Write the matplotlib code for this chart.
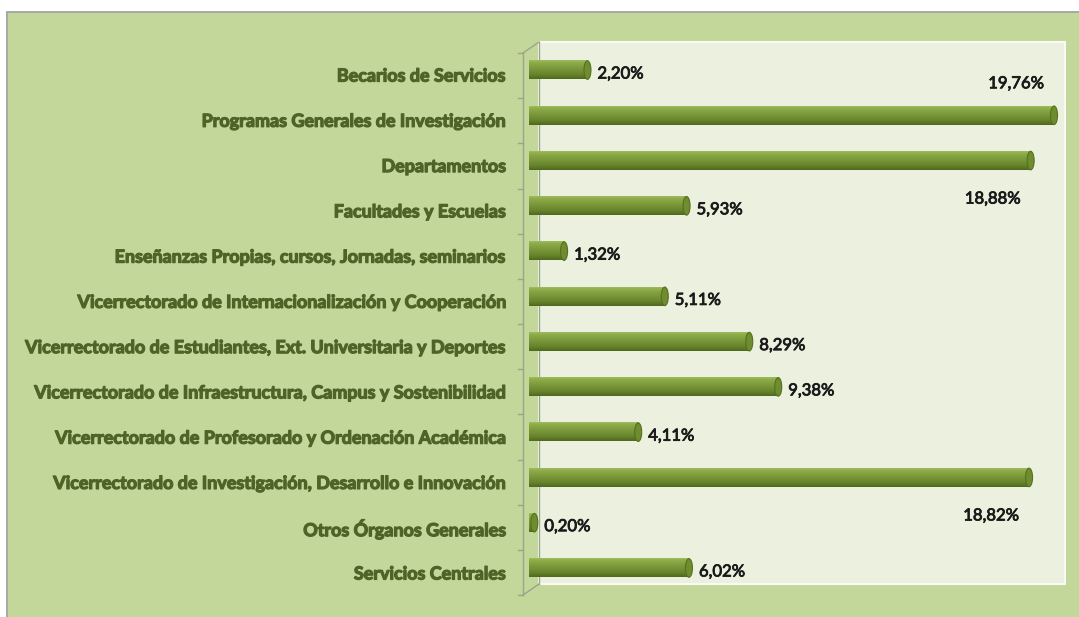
import matplotlib
matplotlib.use('Agg')
import matplotlib.pyplot as plt
from matplotlib.patches import Rectangle, Ellipse
from matplotlib.lines import Line2D
from matplotlib.colors import LinearSegmentedColormap
import matplotlib.transforms as mtransforms
import matplotlib.patheffects as pe
import numpy as np

categories = [
    'Becarios de Servicios',
    'Programas Generales de Investigación',
    'Departamentos',
    'Facultades y Escuelas',
    'Enseñanzas Propias, cursos, Jornadas, seminarios',
    'Vicerrectorado de Internacionalización y Cooperación',
    'Vicerrectorado de Estudiantes, Ext. Universitaria y Deportes',
    'Vicerrectorado de Infraestructura, Campus y Sostenibilidad',
    'Vicerrectorado de Profesorado y Ordenación Académica',
    'Vicerrectorado de Investigación, Desarrollo e Innovación',
    'Otros Órganos Generales',
    'Servicios Centrales',
]
values = [2.20, 19.76, 18.88, 5.93, 1.32, 5.11, 8.29, 9.38, 4.11, 18.82, 0.20, 6.02]
value_labels = ['2,20%', '19,76%', '18,88%', '5,93%', '1,32%', '5,11%',
                '8,29%', '9,38%', '4,11%', '18,82%', '0,20%', '6,02%']

W, H = 1079, 617
fig = plt.figure(figsize=(W / 100, H / 100), dpi=100, facecolor='white')

FONT = ['Lato', 'DejaVu Sans']


def fx(px):
    return px / W


def fy(py):
    return 1 - py / H


# outer chart area
fig.patches.append(Rectangle((fx(7), fy(660)), fx(1120) - fx(7), fy(12) - fy(660),
                             transform=fig.transFigure, facecolor='#c4d79b',
                             edgecolor='#a3a3a3', lw=1.3, zorder=0))
# back wall
fig.patches.append(Rectangle((fx(539), fy(584)), fx(1065) - fx(539), fy(42) - fy(584),
                             transform=fig.transFigure, facecolor='#ebf1de',
                             edgecolor='#f8fbf3', lw=1.5, zorder=1))

# 3D side-wall lines
axis_col = '#9aa58a'
for (x0, y0, x1, y1) in [(523, 53, 523, 595), (523, 53, 539, 42), (523, 595, 539, 584),
                         (539, 42, 539, 584)]:
    fig.lines.append(Line2D([fx(x0), fx(x1)], [fy(y0), fy(y1)], transform=fig.transFigure,
                            color=axis_col, lw=1.0, zorder=2))
n = len(categories)
for k in range(n + 1):
    yy = 53 + k * (542 / n)
    fig.lines.append(Line2D([fx(518), fx(523)], [fy(yy), fy(yy)], transform=fig.transFigure,
                            color=axis_col, lw=1.0, zorder=2))

ax = fig.add_axes([fx(529), fy(590.6), fx(1060.4) - fx(529), fy(47.4) - fy(590.6)])
ax.set_zorder(5)
ax.patch.set_visible(False)
for s in ax.spines.values():
    s.set_visible(False)
ax.set_xticks([])
ax.set_yticks([])

bar_h = 0.41
cmap = LinearSegmentedColormap.from_list('cyl', [
    (0.0, '#9fbb5e'), (0.12, '#8eac48'), (0.45, '#7a983a'),
    (0.78, '#66822b'), (1.0, '#4f681d')])
grad = np.linspace(0, 1, 64).reshape(-1, 1)

px_per_unit = (1060.4 - 529) / 20.0
cap_w = 7 / px_per_unit

bars = ax.barh(range(n), values, height=bar_h, color='#76933c', zorder=3)
for i, (b, v) in enumerate(zip(bars, values)):
    ax.imshow(grad, cmap=cmap, aspect='auto', origin='upper',
              extent=(0, v, i + bar_h / 2, i - bar_h / 2), zorder=4, interpolation='bilinear')
    ax.add_patch(Ellipse((v, i), cap_w, bar_h, facecolor='#6f8d2f', edgecolor='#55701f',
                         lw=0.8, zorder=5))

ax.set_xlim(0, 20)
ax.set_ylim(n - 0.5, -0.5)

fig.canvas.draw()
renderer = fig.canvas.get_renderer()

# category labels
lab_col = '#4f6228'
lab_trans = ax.transData + mtransforms.ScaledTranslation(-23 / 100, -6 / 100, fig.dpi_scale_trans)
probe = fig.text(0, 0, categories[6], fontsize=12, family=FONT, weight='bold')
w = probe.get_window_extent(renderer).width
probe.remove()
cat_fs = 12 * 478 / w
for i, c in enumerate(categories):
    ax.text(0, i, c, transform=lab_trans, ha='right', va='center', fontsize=cat_fs,
            family=FONT, weight='bold', color=lab_col, clip_on=False,
            path_effects=[pe.withStroke(linewidth=0.9, foreground=lab_col)])

# value labels
val_col = '#1a1a1a'
probe = fig.text(0, 0, '2,20%', fontsize=12, family=FONT)
w = probe.get_window_extent(renderer).width
probe.remove()
val_fs = 12 * 46 / w
stroke = [pe.withStroke(linewidth=0.6, foreground=val_col)]
placement = {1: 'above', 2: 'below', 9: 'below'}
for i, (v, t) in enumerate(zip(values, value_labels)):
    mode = placement.get(i, 'right')
    if mode == 'right':
        ax.annotate(t, (v, i), xytext=(10 * 0.72, -3.5 * 0.72),
                    textcoords='offset points', ha='left', va='center', fontsize=val_fs,
                    family=FONT, color=val_col, zorder=6, path_effects=stroke)
    else:
        dy = 32 if mode == 'above' else -38
        ax.annotate(t, (v, i), xytext=(-38 * 0.72, dy * 0.72), textcoords='offset points',
                    ha='center', va='center', fontsize=val_fs, family=FONT,
                    color=val_col, zorder=6, path_effects=stroke)

fig.savefig('out.png', dpi=100, facecolor='white')
